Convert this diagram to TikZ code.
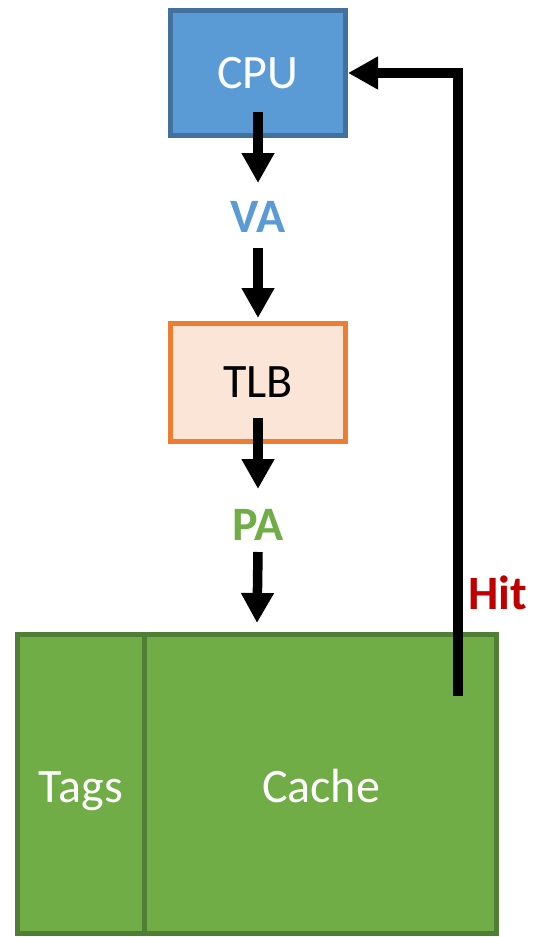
\documentclass[tikz,border=0pt]{standalone}
\usepackage{fontspec}
\setmainfont{Carlito}
\usetikzlibrary{arrows.meta,calc}
\definecolor{cpublue}{HTML}{5B9BD5}
\definecolor{cpuborder}{HTML}{41719C}
\definecolor{tlbfill}{HTML}{FBE5D6}
\definecolor{tlbborder}{HTML}{ED7D31}
\definecolor{cachegreen}{HTML}{70AD47}
\definecolor{cacheborder}{HTML}{507E32}
\definecolor{hitred}{HTML}{C00000}
\tikzset{
  box/.style={draw, line width=2.5pt, minimum width=87.5pt, inner sep=0pt,
    font=\fontsize{24}{28}\selectfont},
  lbl/.style={inner sep=0pt, font=\fontsize{24}{28}\selectfont\bfseries},
  plain/.style={inner sep=0pt, text=white, anchor=base, font=\fontsize{24}{28}\selectfont},
  flow/.style={line width=4.75pt, -{Triangle[width=15.5pt,length=15pt]}, line join=miter}
}
\begin{document}
\begin{tikzpicture}[x=0.5pt,y=-0.5pt]
\useasboundingbox (0,0) rectangle (538,937);
% boxes
\node[box, fill=cpublue, draw=cpuborder, minimum height=62.5pt, text=white] (cpu) at (258,73) {CPU};
\node[lbl, text=cpublue] (va) at (258,217) {VA};
\node[box, fill=tlbfill, draw=tlbborder, minimum height=59pt, text=black] (tlb) at (258,382.5) {TLB};
\node[lbl, text=cachegreen] (pa) at (258,525) {PA};
\node[draw=cacheborder, fill=cachegreen, line width=2.5pt, minimum width=239.5pt, minimum height=149.5pt, inner sep=0pt] (cache) at (257,784) {};
\coordinate (divtop) at (144,632);
\coordinate (divbot) at (144,936);
\draw[cacheborder, line width=2.5pt] (divtop) -- (divbot);
\node[plain] (tags) at (81,802) {Tags};
\node[plain] (cachelbl) at (321,802) {Cache};
\node[lbl, text=hitred] (hit) at (498,593) {Hit};
% connectors
\draw[flow] ($(cpu.center)+(0,39)$) -- ($(va.center)+(0,-34)$);
\draw[flow] ($(va.center)+(0,31)$) -- ($(tlb.center)+(0,-64.5)$);
\draw[flow] ($(tlb.center)+(0,35.5)$) -- ($(pa.center)+(0,-36)$);
\draw[flow] ($(pa.center)+(0,27)$) -- ($(cache.center)+(0,-161)$);
\draw[flow] ($(cache.center)+(201,-88)$) |- (cpu.east);
\end{tikzpicture}
\end{document}
